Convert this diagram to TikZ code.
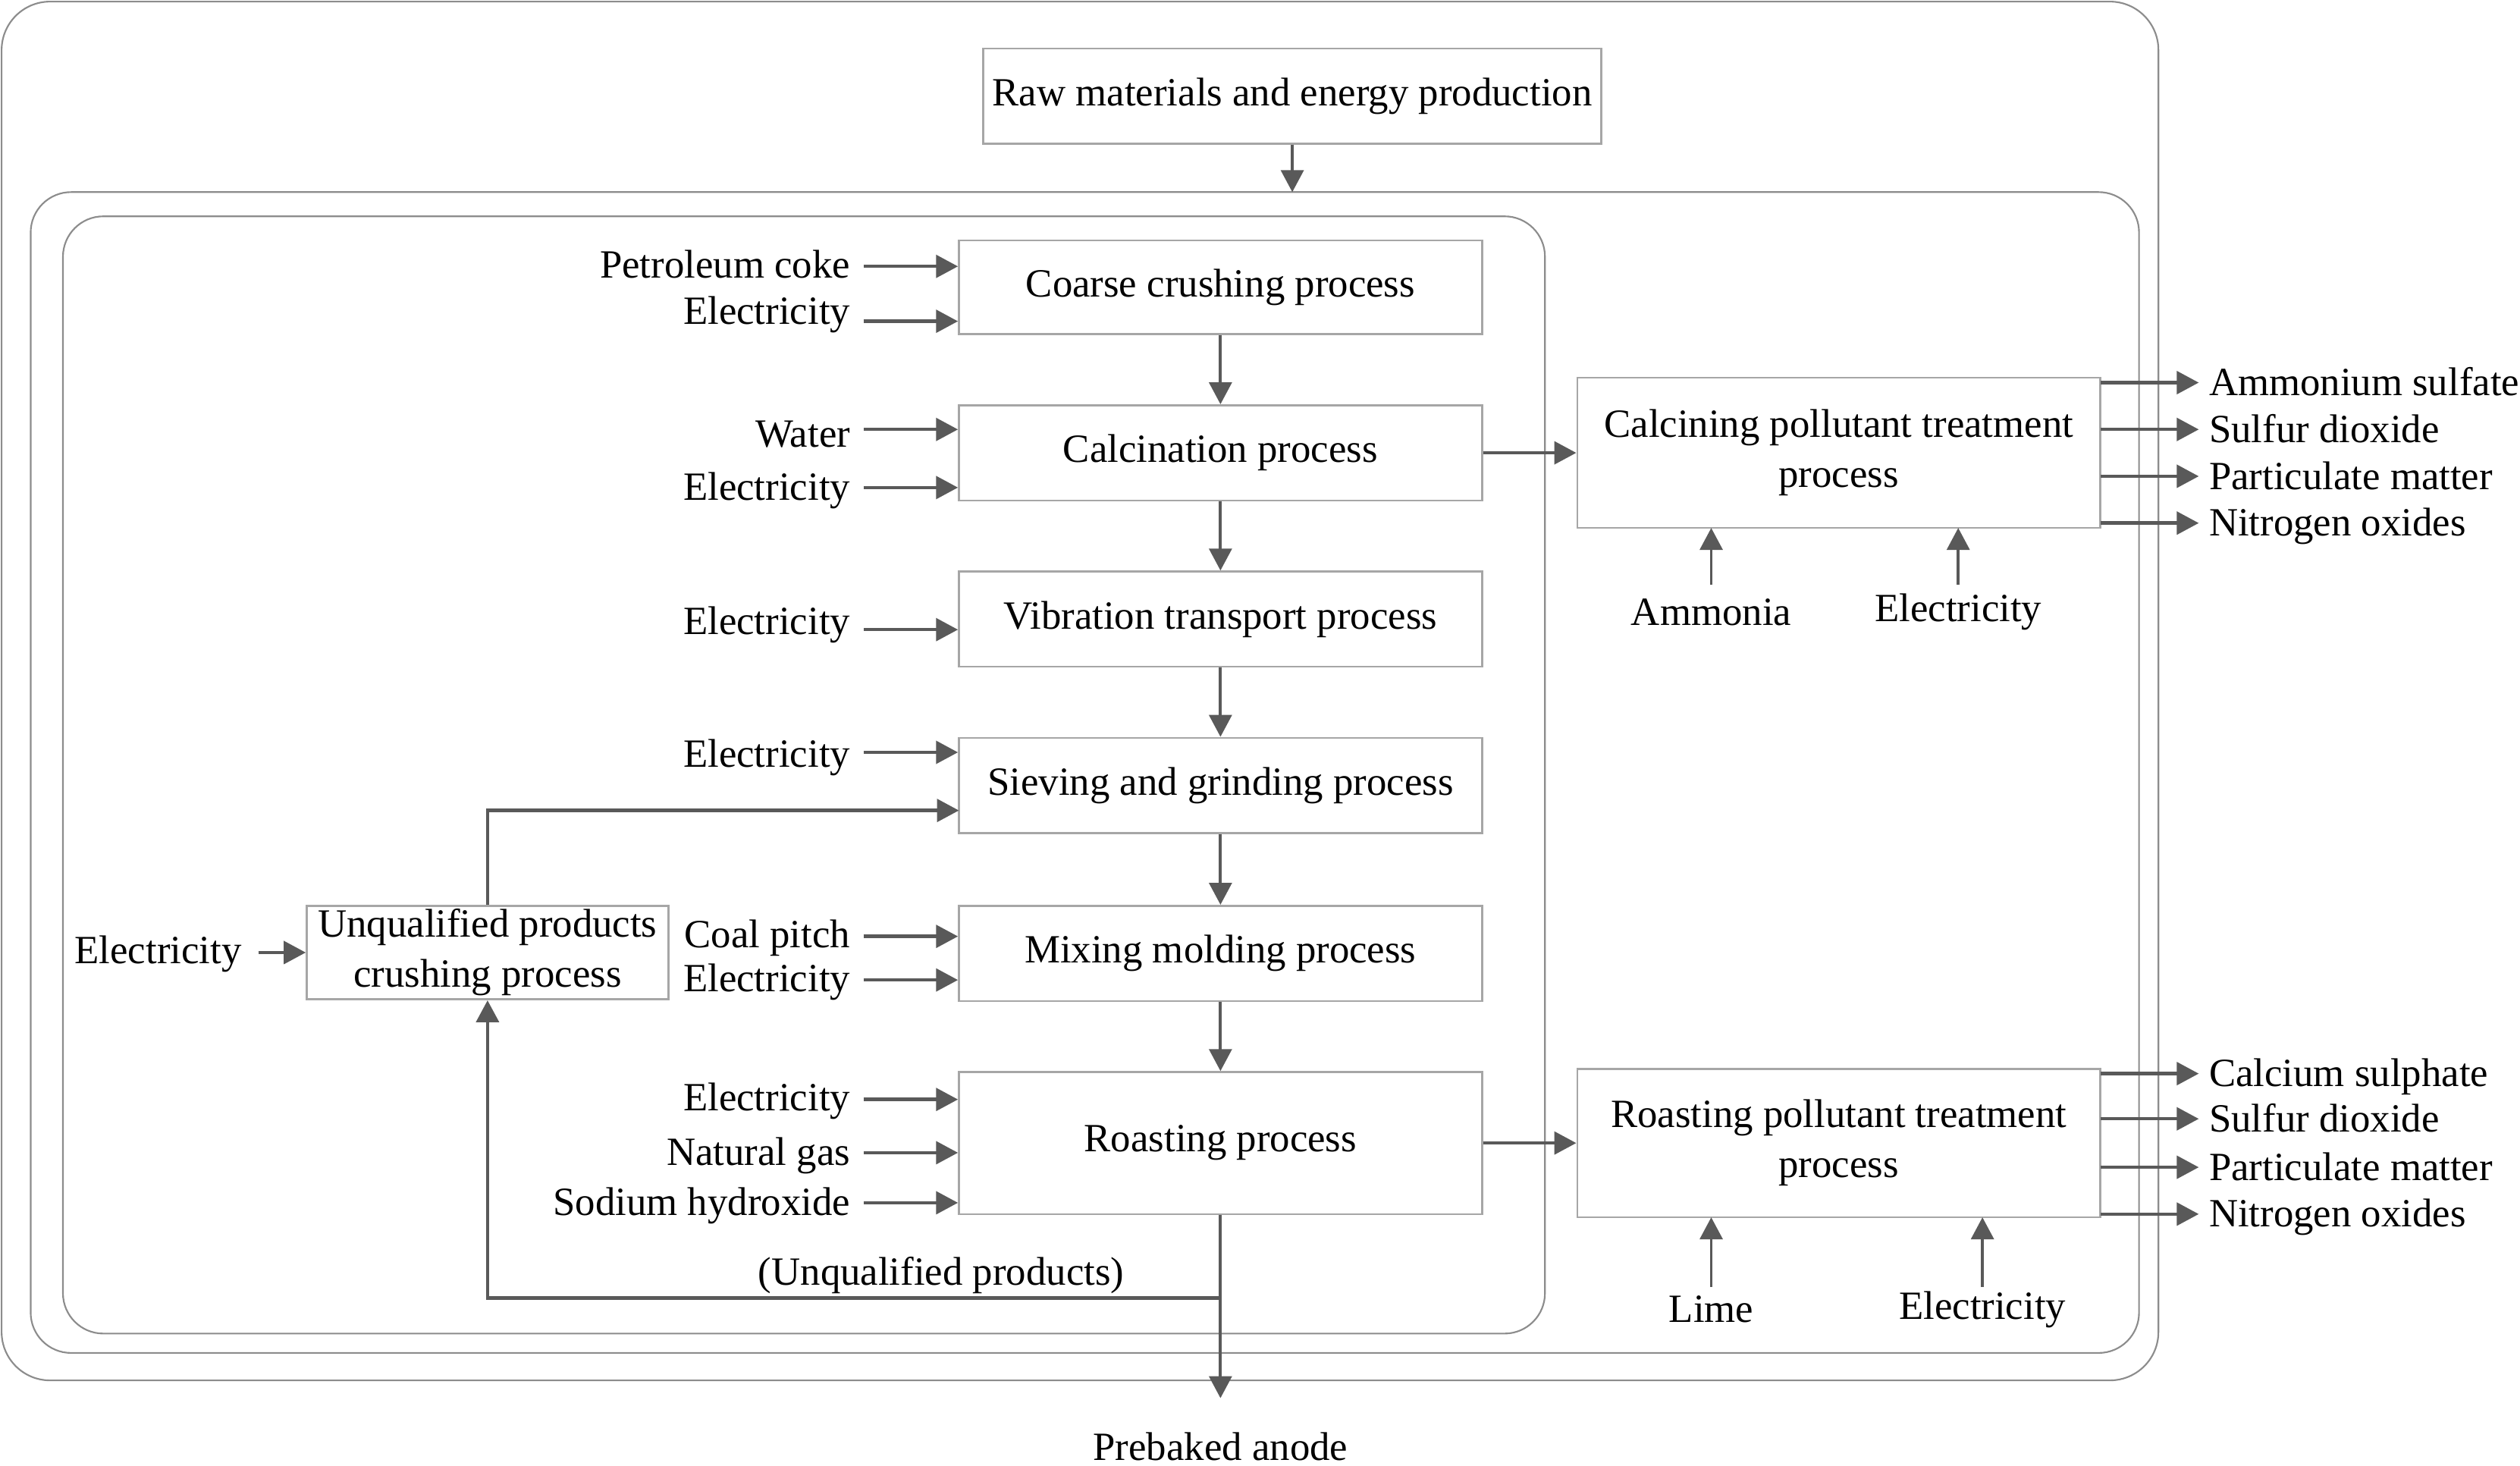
\documentclass[tikz,border=0pt]{standalone}
\usepackage{fontspec}
\setmainfont{Liberation Serif}
\usetikzlibrary{arrows.meta,calc}
\definecolor{boxgray}{HTML}{A6A6A6}
\definecolor{arrgray}{HTML}{595959}
\definecolor{framegray}{HTML}{8C8C8C}
\tikzset{
  proc/.style={draw=boxgray,line width=0.6pt,fill=white,align=center,inner sep=0pt,font=\fontsize{12.4pt}{15.5pt}\selectfont},
  lab/.style={inner sep=0pt,font=\fontsize{12.4pt}{15.5pt}\selectfont},
  arr/.style={draw=arrgray,line width=1.05pt,-{Triangle[length=6.8pt,width=7pt]}},
  varr/.style={draw=arrgray,line width=0.9pt,-{Triangle[length=6.8pt,width=7pt]}},
  frame/.style={draw=framegray,line width=0.5pt},
}
\begin{document}
\begin{tikzpicture}[x=0.5pt,y=-0.5pt]
\useasboundingbox (0,0) rectangle (1561,908);
% frames
\draw[frame,rounded corners=15pt] (1,1) rectangle (1337,855);
\draw[frame,rounded corners=12.5pt] (19,119) rectangle (1325,838);
\draw[frame,rounded corners=12.5pt] (39,134) rectangle (957,826);
% process boxes
\node[proc,minimum width=191.5pt,minimum height=29.5pt] (raw) at (800.5,59.5) {Raw materials and energy production};
\coordinate (midtop) at (800.5,119);
\node[proc,minimum width=162pt,minimum height=29pt] (coarse) at (756,178) {Coarse crushing process};
\node[proc,minimum width=162pt,minimum height=29.5pt] (calc) at (756,280.5) {Calcination process};
\node[proc,minimum width=162pt,minimum height=29.5pt] (vib) at (756,383.5) {Vibration transport process};
\node[proc,minimum width=162pt,minimum height=29.5pt] (sieve) at (756,486.5) {Sieving and grinding process};
\node[proc,minimum width=162pt,minimum height=29.5pt] (mix) at (756,590.5) {Mixing molding process};
\node[proc,minimum width=162pt,minimum height=44pt] (roast) at (756,708) {Roasting process};
\node[proc,minimum width=112pt,minimum height=29pt] (unq) at (302,590) {Unqualified products\\crushing process};
\node[proc,minimum width=162pt,minimum height=46.5pt] (cpt) at (1139,280.5) {Calcining pollutant treatment\\process};
\node[proc,minimum width=162pt,minimum height=46pt] (rpt) at (1139,708) {Roasting pollutant treatment\\process};
% main flow
\draw[varr] (raw.south) -- (midtop);
\draw[varr] (coarse.south) -- (calc.north);
\draw[varr] (calc.south) -- (vib.north);
\draw[varr] (vib.south) -- (sieve.north);
\draw[varr] (sieve.south) -- (mix.north);
\draw[varr] (mix.south) -- (roast.north);
\draw[arr] (calc.east) -- (cpt.west);
\draw[arr] (roast.east) -- (rpt.west);
% left inputs
\foreach \name/\txt/\ty/\ay/\tgt in {
  i1/Petroleum coke/164/165/coarse,
  i2/Electricity/193/199/coarse,
  i3/Water/269/266/calc,
  i4/Electricity/302/302/calc,
  i5/Electricity/385/390/vib,
  i6/Electricity/467/466/sieve,
  i7/Coal pitch/579/580/mix,
  i8/Electricity/606/607/mix,
  i9/Electricity/680/681/roast,
  i10/Natural gas/714/714/roast,
  i11/Sodium hydroxide/745/745/roast}{
  \node[lab,anchor=base east] (\name) at (527,\ty+8) {\txt};
  \coordinate (\name s) at (535,\ay);
  \draw[arr] (\name s) -- (\name s -| \tgt.west);
}
\node[lab,anchor=base east] (eu) at (150,597) {Electricity};
\coordinate (eus) at (160,590);
\draw[arr] (eus) -- (eus -| unq.west);
% unqualified loop
\coordinate (sv) at (594,502);
\draw[arr] (unq.north) |- (sv);
\coordinate (j) at (756,804);
\coordinate (anode) at (756,866);
\draw[varr] (roast.south) -- (anode);
\draw[arr] (j) -| (unq.south);
\node[lab] (uqp) at (583,790) {(Unqualified products)};
\node[lab] (pa) at (756,896) {Prebaked anode};
% calcining outputs
\foreach \name/\txt/\ty/\tgt in {
  o1/Ammonium sulfate/237/cpt,
  o2/Sulfur dioxide/266/cpt,
  o3/Particulate matter/295/cpt,
  o4/Nitrogen oxides/324/cpt,
  o5/Calcium sulphate/665/rpt,
  o6/Sulfur dioxide/693/rpt,
  o7/Particulate matter/723/rpt,
  o8/Nitrogen oxides/752/rpt}{
  \node[lab,anchor=base west] (\name) at (1368,\ty+8) {\txt};
  \coordinate (\name s) at (1301,\ty);
  \draw[arr] (\name s) -- (1362,\ty);
}
% bottom inputs
\node[lab] (amm) at (1060,379) {Ammonia};
\node[lab] (ec) at (1213,379) {Electricity};
\draw[varr] (1060,362) -- (1060,327);
\draw[varr] (1213,362) -- (1213,327);
\node[lab] (lime) at (1060,811) {Lime};
\node[lab] (er) at (1228,811) {Electricity};
\draw[varr] (1060,797) -- (1060,754);
\draw[varr] (1228,797) -- (1228,754);
\end{tikzpicture}
\end{document}
